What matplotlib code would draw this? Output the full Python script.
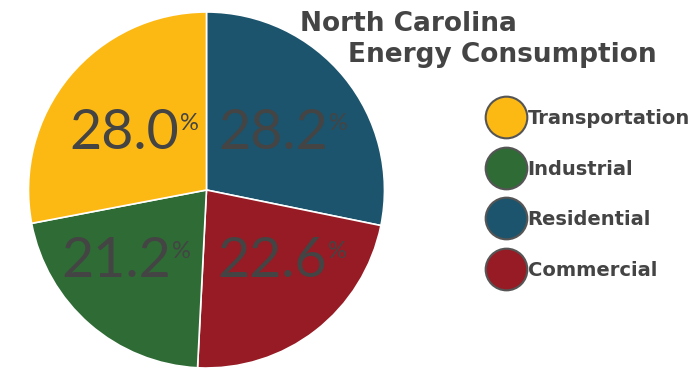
import matplotlib.pyplot as plt
from matplotlib.lines import Line2D

# slices, clockwise from 12 o'clock
sectors = ['Residential', 'Commercial', 'Industrial', 'Transportation']
shares = [28.2, 22.6, 21.2, 28.0]
colors = ['#1b546c', '#961b24', '#2e6b35', '#fdb913']

# legend order
legend_names = ['Transportation', 'Industrial', 'Residential', 'Commercial']

text_grey = '#444444'

fig = plt.figure(figsize=(6.93, 3.69), dpi=100)
ax = fig.add_axes([0.0411, 0.0027, 0.5137, 0.9648])

wedges, _ = ax.pie(shares, colors=colors, startangle=90, counterclock=False,
                   wedgeprops=dict(edgecolor='white', linewidth=1.2))
ax.set_xlim(-1, 1)
ax.set_ylim(-1, 1)
ax.set_aspect('equal')

# label spots sit on a grid, not on the wedge bisectors
label_spots = [(0.374, 0.32), (0.368, -0.40), (-0.508, -0.40), (-0.463, 0.32)]

for (x, y), v in zip(label_spots, shares):
    num = ax.text(x, y, f'{v:.1f}', ha='center', va='center',
                  fontsize=40, color=text_grey, family='Lato')
    ax.annotate('%', xy=(1, 1), xycoords=num, xytext=(1, -4), textcoords='offset points',
                ha='left', va='top', fontsize=17, color=text_grey, family='Lato')

fig.text(0.433, 0.935, 'North Carolina', fontsize=19, fontweight='bold',
         color=text_grey, ha='left', va='center')
fig.text(0.502, 0.85, 'Energy Consumption', fontsize=19, fontweight='bold',
         color=text_grey, ha='left', va='center')

handles = [Line2D([], [], marker='o', ls='', markersize=30,
                  markerfacecolor=colors[sectors.index(n)],
                  markeredgecolor='#555555', markeredgewidth=1.5)
           for n in legend_names]
fig.legend(handles, legend_names, loc='upper left', bbox_to_anchor=(0.708, 0.705),
           frameon=False, prop=dict(size=14, weight='bold'), handlelength=1.55,
           handletextpad=0.35, labelspacing=1.63, borderpad=0, borderaxespad=0,
           labelcolor=text_grey)

fig.savefig('out.png', dpi=100)
